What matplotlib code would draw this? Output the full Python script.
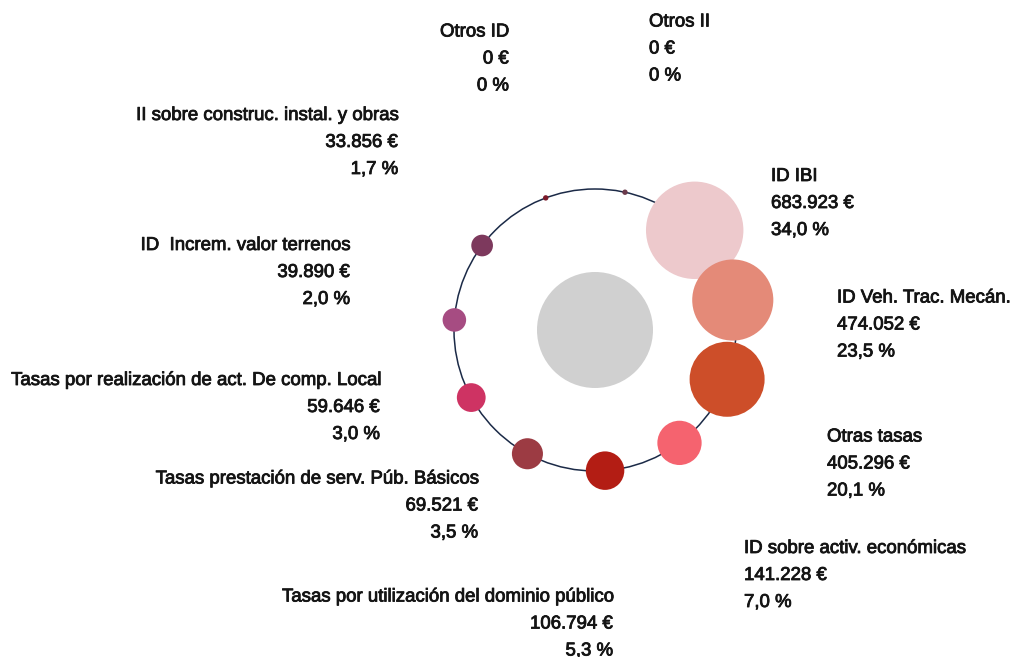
import numpy as np
import matplotlib
matplotlib.use("Agg")
import matplotlib.pyplot as plt
from matplotlib.patches import Circle
import matplotlib.patheffects as pe

# ---- data ----
categories = [
    "ID IBI",
    "ID Veh. Trac. Mecán.",
    "Otras tasas",
    "ID sobre activ. económicas",
    "Tasas por utilización del dominio público",
    "Tasas prestación de serv. Púb. Básicos",
    "Tasas por realización de act. De comp. Local",
    "ID  Increm. valor terrenos",
    "II sobre construc. instal. y obras",
    "Otros ID",
    "Otros II",
]
values = [683923, 474052, 405296, 141228, 106794, 69521, 59646, 39890, 33856, 0, 0]
percents = ["34,0", "23,5", "20,1", "7,0", "5,3", "3,5", "3,0", "2,0", "1,7", "0", "0"]

colors = ["#EDC9CC", "#E48A78", "#CD4E29", "#F5636F", "#B31D14", "#9C3B43",
          "#CE3363", "#A64C82", "#7D395D", "#7B1A2A", "#6B3B4B"]

# ---- layout (pixel space) ----
W, H = 1013, 657
CX, CY, R = 595, 330, 141
CENTER_R = 58
K = 0.0589
RMIN = 2.7
START_ANGLE = 45.0

# label anchors: (x, y of middle line, ha)
label_layout = [
    (771, 203.5, "left"),
    (837, 325, "left"),
    (827, 464, "left"),
    (744, 575.5, "left"),
    (613, 624, "right"),
    (478, 506, "right"),
    (380, 407.5, "right"),
    (350, 272.5, "right"),
    (398, 142.5, "right"),
    (509, 59, "right"),
    (649, 49, "left"),
]
LINE_GAP = 27

plt.rcParams['font.family'] = ['Liberation Sans', 'DejaVu Sans']

fig = plt.figure(figsize=(W / 100, H / 100), dpi=100)
ax = fig.add_axes([0, 0, 1, 1])
ax.set_xlim(0, W)
ax.set_ylim(H, 0)
ax.set_aspect('equal')
ax.axis('off')

# ring
ax.add_patch(Circle((CX, CY), R, fill=False, edgecolor="#1B2A47", linewidth=1.1, zorder=1))
# center disc
ax.add_patch(Circle((CX, CY), CENTER_R, facecolor="#D0D0D0", edgecolor="none", zorder=2))

n = len(values)
def fmt_eur(v):
    return f"{v:,}".replace(",", ".") + " €"

TXT = "#141414"
stroke = [pe.withStroke(linewidth=0.6, foreground=TXT)]

for i, (cat, v, p, c) in enumerate(zip(categories, values, percents, colors)):
    ang = np.deg2rad(START_ANGLE - i * 360.0 / n)
    x = CX + R * np.cos(ang)
    y = CY - R * np.sin(ang)
    r = max(K * np.sqrt(v), RMIN)
    ax.add_patch(Circle((x, y), r, facecolor=c, edgecolor="none", zorder=3))
    lx, ly, ha = label_layout[i]
    for j, t in enumerate([cat, fmt_eur(v), f"{p} %"]):
        ax.text(lx, ly + (j - 1) * LINE_GAP, t, ha=ha, va="center",
                fontsize=13.4, color=TXT, zorder=5, path_effects=stroke)

fig.savefig("out.png", dpi=100)
